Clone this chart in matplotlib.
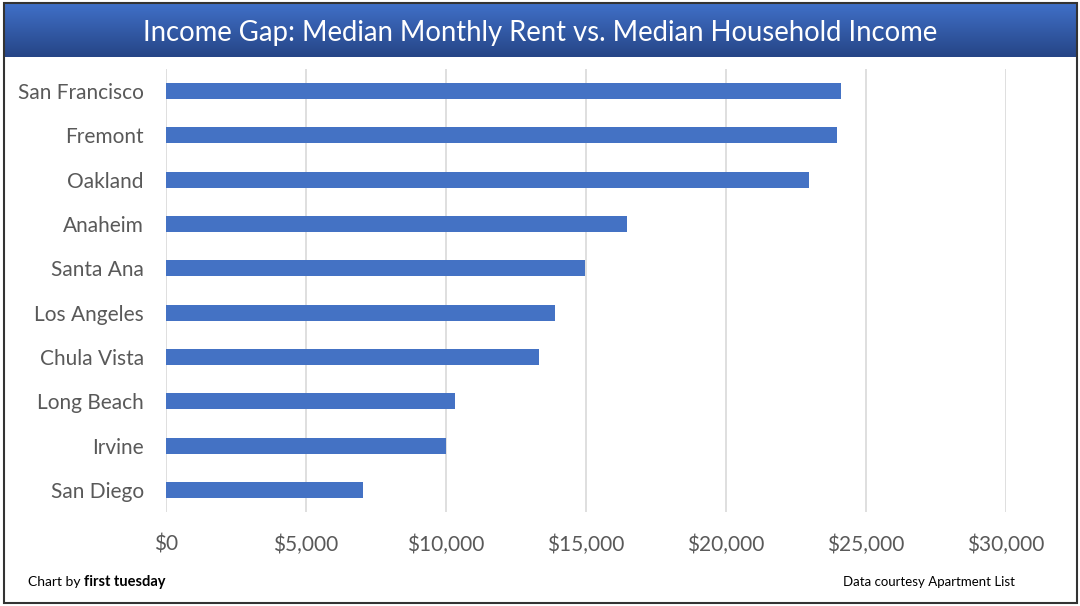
import numpy as np
import matplotlib.pyplot as plt
from matplotlib.ticker import FuncFormatter

plt.rcParams['font.family'] = ['Lato', 'DejaVu Sans']

cities = ['San Francisco', 'Fremont', 'Oakland', 'Anaheim', 'Santa Ana',
          'Los Angeles', 'Chula Vista', 'Long Beach', 'Irvine', 'San Diego']
gap = [24100, 23950, 22950, 16480, 14950, 13880, 13330, 10320, 10000, 7040]
ticks = [0, 5000, 10000, 15000, 20000, 25000, 30000]

W, H = 1080, 606
fig = plt.figure(figsize=(W / 100, H / 100), dpi=100)
fig.patch.set_facecolor('white')

# title banner with gradient
axT = fig.add_axes([4 / W, 1 - 57 / H, 1073 / W, 54 / H])
grad = np.linspace(0, 1, 100).reshape(-1, 1)
top = np.array([0x40, 0x70, 0xC8]) / 255
bot = np.array([0x26, 0x45, 0x86]) / 255
img = top + (bot - top) * grad[:, :, None]
axT.imshow(img, aspect='auto', extent=[0, 1, 0, 1])
axT.set_xlim(0, 1)
axT.set_ylim(0, 1)
axT.axis('off')
axT.text(0.5, 0.44, 'Income Gap: Median Monthly Rent vs. Median Household Income',
         color='white', fontsize=19.8, ha='center', va='center')

# main chart
ax = fig.add_axes([166 / W, 1 - 512 / H, 840 / W, 443 / H])
y = np.arange(len(cities))
ax.barh(y, gap, height=0.36, color='#4472C4', zorder=3)
ax.set_ylim(len(cities) - 0.5, -0.5)
ax.set_xlim(0, 30000)
ax.set_xticks(ticks)
ax.xaxis.set_major_formatter(FuncFormatter(lambda v, p: '${:,.0f}'.format(v)))
ax.set_yticks(y)
ax.set_yticklabels(cities)
ax.grid(axis='x', color='#D9D9D9', lw=1.2, zorder=0)
for s in ax.spines.values():
    s.set_visible(False)
ax.tick_params(axis='both', length=0, labelsize=15, colors='#595959')
ax.tick_params(axis='x', pad=16)
ax.tick_params(axis='y', pad=16)

# footer
fig.text(28 / W, 1 - 582 / H, 'Chart by', fontsize=10, ha='left', va='center')
fig.text(84 / W, 1 - 582 / H, 'first tuesday', fontsize=10.5, fontweight='bold',
         ha='left', va='center')
fig.text(1015 / W, 1 - 582 / H, 'Data courtesy Apartment List', fontsize=9.5,
         ha='right', va='center')

# outer frame
frame = plt.Rectangle((4 / W, 3 / H), 1073 / W, 600 / H, transform=fig.transFigure,
                      fill=False, edgecolor='#333333', lw=1.5)
fig.patches.append(frame)

fig.savefig('out.png', dpi=100)
